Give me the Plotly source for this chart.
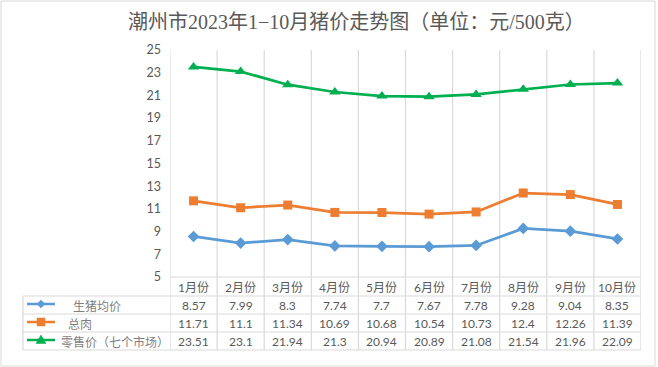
import plotly.graph_objects as go

# ---- data ----
months = ["1月份", "2月份", "3月份", "4月份", "5月份", "6月份", "7月份", "8月份", "9月份", "10月份"]
pig_price = [8.57, 7.99, 8.3, 7.74, 7.7, 7.67, 7.78, 9.28, 9.04, 8.35]
pork_price = [11.71, 11.1, 11.34, 10.69, 10.68, 10.54, 10.73, 12.4, 12.26, 11.39]
retail_price = [23.51, 23.1, 21.94, 21.3, 20.94, 20.89, 21.08, 21.54, 21.96, 22.09]
series_names = ["生猪均价", "总肉", "零售价（七个市场）"]
y_ticks = [5, 7, 9, 11, 13, 15, 17, 19, 21, 23, 25]
title_text = "潮州市2023年1−10月猪价走势图（单位：元/500克）"

# ---- styles ----
W, H = 658, 367
colors = ["#5B9BD5", "#ED7D31", "#00B050"]
symbols = ["diamond", "square", "triangle-up"]
msizes = [9, 9, 10]
grid = "#D9D9D9"
txt = "#595959"
font_num = "Lato, 'Noto Sans CJK SC', sans-serif"
font_cjk = "'Noto Sans CJK SC', sans-serif"
font_title = "'Liberation Serif', 'Noto Sans CJK SC', serif"

def px(x):
    return x / W

def py(y):
    return 1 - y / H

plot_l, plot_r, plot_t, plot_b = 170, 641, 50, 277
row_lines = [296, 314, 332, 350]
row_centers = [305, 323, 341]
header_y = 287

fig = go.Figure()
all_series = [pig_price, pork_price, retail_price]
for name, vals, c, s, ms in zip(series_names, all_series, colors, symbols, msizes):
    fig.add_trace(go.Scatter(
        x=list(range(len(months))), y=vals, name=name, mode="lines+markers",
        line=dict(color=c, width=2.75),
        marker=dict(symbol=s, size=ms, color=c),
        cliponaxis=False, showlegend=False, hoverinfo="skip",
    ))

shapes = []
# outer border
shapes.append(dict(type="rect", xref="paper", yref="paper",
                   x0=px(1), x1=px(655), y0=py(366), y1=py(1),
                   line=dict(color=grid, width=1)))
# vertical category lines (through plot and table)
for i in range(len(months) + 1):
    shapes.append(dict(type="line", xref="x", yref="paper",
                       x0=i - 0.5, x1=i - 0.5, y0=py(row_lines[-1]), y1=py(plot_t),
                       line=dict(color=grid, width=1.2), layer="below"))
# x axis line
shapes.append(dict(type="line", xref="paper", yref="paper",
                   x0=px(plot_l), x1=px(plot_r), y0=py(plot_b), y1=py(plot_b),
                   line=dict(color=grid, width=1.2), layer="below"))
# table horizontal lines
for yl in row_lines:
    shapes.append(dict(type="line", xref="paper", yref="paper",
                       x0=px(23), x1=px(plot_r), y0=py(yl), y1=py(yl),
                       line=dict(color=grid, width=1.2)))
# table left border
shapes.append(dict(type="line", xref="paper", yref="paper",
                   x0=px(23), x1=px(23), y0=py(row_lines[-1]), y1=py(row_lines[0]),
                   line=dict(color=grid, width=1.2)))

# legend keys in table
def path(points):
    return "M " + " L ".join(f"{px(a)},{py(b)}" for a, b in points) + " Z"

kx = 41
for k, (c, yc) in enumerate(zip(colors, row_centers)):
    yk = yc - 1
    shapes.append(dict(type="line", xref="paper", yref="paper",
                       x0=px(27), x1=px(55), y0=py(yk), y1=py(yk),
                       line=dict(color=c, width=2.5)))
    if k == 0:
        pts = [(kx, yk - 4), (kx + 4, yk), (kx, yk + 4), (kx - 4, yk)]
    elif k == 1:
        pts = [(kx - 4, yk - 4), (kx + 4, yk - 4), (kx + 4, yk + 4), (kx - 4, yk + 4)]
    else:
        pts = [(kx, yk - 5), (kx + 5, yk + 3.5), (kx - 5, yk + 3.5)]
    shapes.append(dict(type="path", xref="paper", yref="paper", path=path(pts),
                       fillcolor=c, line=dict(color=c, width=0.5)))

annotations = []
# title
annotations.append(dict(text=title_text, xref="paper", yref="paper",
                        x=px(356), y=py(22), xanchor="center", yanchor="middle",
                        showarrow=False, font=dict(family=font_title, size=20, color=txt)))
# month header
for i, m in enumerate(months):
    annotations.append(dict(text=m, xref="x", yref="paper", x=i, y=py(header_y),
                            xanchor="center", yanchor="middle", showarrow=False,
                            font=dict(family=font_num, size=12, color=txt)))
# table values
for vals, yc in zip(all_series, row_centers):
    for i, v in enumerate(vals):
        annotations.append(dict(text=f"{v:g}", xref="x", yref="paper", x=i, y=py(yc),
                                xanchor="center", yanchor="middle", showarrow=False,
                                font=dict(family=font_num, size=12, color=txt)))
# series names
name_x = [71, 66, 59]
for name, xs, yc in zip(series_names, name_x, row_centers):
    annotations.append(dict(text=name, xref="paper", yref="paper", x=px(xs), y=py(yc),
                            xanchor="left", yanchor="middle", showarrow=False,
                            font=dict(family=font_cjk, size=12, color="#7F7F7F")))

fig.update_layout(
    width=W, height=H, autosize=False,
    margin=dict(l=0, r=0, t=0, b=0, pad=0, autoexpand=False),
    paper_bgcolor="white", plot_bgcolor="white",
    xaxis=dict(domain=[px(plot_l), px(plot_r)], range=[-0.5, len(months) - 0.5],
               showgrid=False, zeroline=False, showticklabels=False, showline=False,
               automargin=False),
    yaxis=dict(domain=[py(plot_b), py(plot_t)], range=[5, 25], tickvals=y_ticks,
               showgrid=False, zeroline=False, showline=False, ticks="",
               ticklabelstandoff=8, automargin=False,
               tickfont=dict(family=font_num, size=12.5, color=txt)),
    shapes=shapes, annotations=annotations,
)

fig.write_html("out.html", config={"displayModeBar": False},
               post_script="document.body.style.margin='0px';")
